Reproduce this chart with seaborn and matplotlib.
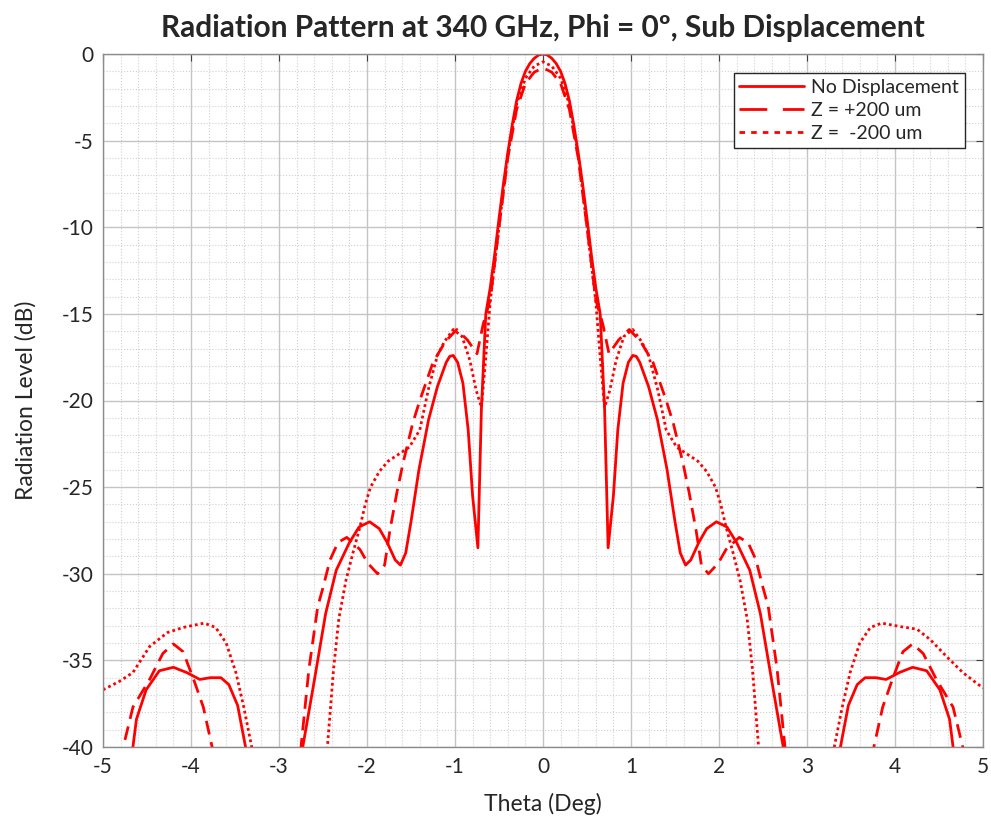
import numpy as np
import pandas as pd
import seaborn as sns
import matplotlib.pyplot as plt
from matplotlib.ticker import MultipleLocator
from matplotlib.lines import Line2D

# values (theta in deg, level in dB);
# points below -40 only carry the lines out of the axes
theta_nodisp = [-5.0, -4.72, -4.66, -4.62, -4.51, -4.36, -4.2, -4.05, -3.9, -3.78,
                -3.66, -3.57, -3.47, -3.38, -3.3, -2.8, -2.73, -2.6, -2.47, -2.35,
                -2.2, -2.09, -1.97, -1.86, -1.77, -1.68, -1.62, -1.56, -1.5, -1.41,
                -1.3, -1.2, -1.1, -1.06, -1.02, -0.97, -0.91, -0.85, -0.8, -0.74, -0.7,
                -0.65, -0.6, -0.55, -0.5, -0.45, -0.4, -0.35, -0.3, -0.25, -0.2, -0.15,
                -0.1, -0.05, 0.0,
                0.05, 0.1, 0.15, 0.2, 0.25, 0.3, 0.35, 0.4, 0.45, 0.5, 0.55, 0.6,
                0.65, 0.7, 0.74,
                0.8, 0.85, 0.91, 0.97, 1.02, 1.06, 1.1, 1.2, 1.3, 1.41, 1.5,
                1.56, 1.62, 1.68, 1.77, 1.86, 1.97, 2.09, 2.2, 2.35, 2.47,
                2.6, 2.73, 2.8, 3.3, 3.38, 3.47, 3.57, 3.66, 3.78, 3.9,
                4.05, 4.2, 4.36, 4.51, 4.62, 4.66, 4.72, 5.0]
level_nodisp = [-50, -43, -40, -38.4, -36.7, -35.6, -35.4, -35.7, -36.1, -36.0,
                -36.0, -36.4, -37.6, -40, -44, -44, -40, -36.2, -32.3, -29.8,
                -28.2, -27.3, -27.0, -27.4, -28.2, -29.2, -29.5, -28.8, -27.0, -24.0,
                -21.1, -19.2, -17.8, -17.45, -17.4, -17.8, -19.0, -21.7, -25.5, -28.5, -20.5,
                -15.0, -13.5, -11.6, -9.5, -7.5, -5.7, -4.1, -2.7, -1.7, -1.0, -0.55,
                -0.25, -0.06, 0.0,
                -0.06, -0.25, -0.55, -1.0, -1.7, -2.7, -4.1, -5.7, -7.5, -9.5, -11.6, -13.5,
                -15.0, -20.5, -28.5,
                -25.5, -21.7, -19.0, -17.8, -17.4, -17.45, -17.8, -19.2, -21.1, -24.0, -27.0,
                -28.8, -29.5, -29.2, -28.2, -27.4, -27.0, -27.3, -28.2, -29.8, -32.3,
                -36.2, -40, -44, -44, -40, -37.6, -36.4, -36.0, -36.0, -36.1,
                -35.7, -35.4, -35.6, -36.7, -38.4, -40, -43, -50]

theta_zplus = [-5.0, -4.85, -4.77, -4.66, -4.47, -4.32, -4.2, -4.09, -3.97, -3.86,
               -3.76, -3.7, -2.82, -2.75, -2.66, -2.56, -2.5, -2.42, -2.33, -2.23,
               -2.08, -1.99, -1.88, -1.8, -1.74, -1.66, -1.59, -1.48, -1.4, -1.25,
               -1.11, -0.98, -0.86, -0.75, -0.68, -0.6, -0.5, -0.4, -0.3, -0.2,
               -0.1, 0.0,
               0.1, 0.2, 0.3, 0.4, 0.5, 0.6, 0.68, 0.75, 0.86, 0.98,
               1.11, 1.25, 1.4, 1.48, 1.59, 1.66, 1.74, 1.8, 1.88, 1.99,
               2.08, 2.23, 2.33, 2.42, 2.5, 2.56, 2.66, 2.75, 2.82, 3.7,
               3.76, 3.86, 3.97, 4.09, 4.2, 4.32, 4.47, 4.66, 4.77, 4.85, 5.0]
level_zplus = [-55, -44, -40, -37.7, -36.1, -34.6, -34.05, -34.5, -36.1, -37.7,
               -40, -44, -44, -40, -35.5, -31.9, -30.8, -29.2, -28.2, -27.9,
               -28.6, -29.4, -30.0, -29.5, -27.5, -25.3, -23.6, -21.3, -20.0, -17.8,
               -16.6, -15.9, -16.5, -17.3, -15.6, -14.2, -10.0, -6.0, -3.2, -1.7,
               -1.05, -0.8,
               -1.05, -1.7, -3.2, -6.0, -10.0, -14.2, -15.6, -17.3, -16.5, -15.9,
               -16.6, -17.8, -20.0, -21.3, -23.6, -25.3, -27.5, -29.5, -30.0, -29.4,
               -28.6, -27.9, -28.2, -29.2, -30.8, -31.9, -35.5, -40, -44, -44,
               -40, -37.7, -36.1, -34.5, -34.05, -34.6, -36.1, -37.7, -40, -44, -55]

theta_zminus = [-5.0, -4.81, -4.66, -4.47, -4.27, -4.09, -3.85, -3.72, -3.6, -3.49,
                -3.4, -3.31, -3.25, -2.5, -2.45, -2.38, -2.32, -2.24, -2.16, -2.08,
                -2.02, -1.96, -1.86, -1.76, -1.64, -1.52, -1.4, -1.3, -1.2, -1.12,
                -1.02, -0.92, -0.83, -0.76, -0.7, -0.65, -0.6, -0.5, -0.4, -0.3,
                -0.2, -0.1, 0.0,
                0.1, 0.2, 0.3, 0.4, 0.5, 0.6, 0.65, 0.7, 0.76, 0.83,
                0.92, 1.02, 1.12, 1.2, 1.3, 1.4, 1.52, 1.64, 1.76, 1.86,
                1.96, 2.02, 2.08, 2.16, 2.24, 2.32, 2.38, 2.45, 2.5, 3.25,
                3.31, 3.4, 3.49, 3.6, 3.72, 3.85, 4.06, 4.25, 4.4, 4.59, 4.77, 5.0]
level_zminus = [-36.7, -36.2, -35.7, -34.2, -33.4, -33.1, -32.85, -33.1, -34.0, -35.7,
                -37.7, -40, -44, -44, -40, -35.5, -32.6, -30.4, -28.8, -27.3,
                -26.0, -25.0, -24.1, -23.5, -23.1, -22.7, -21.7, -19.3, -17.4, -16.6,
                -15.9, -16.3, -17.7, -19.4, -20.4, -17.5, -14.3, -10.0, -5.8, -2.9,
                -1.4, -0.7, -0.45,
                -0.7, -1.4, -2.9, -5.8, -10.0, -14.3, -17.5, -20.4, -19.4, -17.7,
                -16.3, -15.9, -16.6, -17.4, -19.3, -21.7, -22.7, -23.1, -23.5, -24.1,
                -25.0, -26.0, -27.3, -28.8, -30.4, -32.6, -35.5, -40, -44, -44,
                -40, -37.7, -35.7, -34.0, -33.1, -32.85, -33.05, -33.2, -33.8, -34.8, -35.7, -36.6]

labels = ['No Displacement', 'Z = +200 um', 'Z =  -200 um']

df = pd.concat([
    pd.DataFrame({'theta': theta_nodisp, 'level': level_nodisp, 'case': labels[0]}),
    pd.DataFrame({'theta': theta_zplus, 'level': level_zplus, 'case': labels[1]}),
    pd.DataFrame({'theta': theta_zminus, 'level': level_zminus, 'case': labels[2]}),
], ignore_index=True)

sns.set_style('white')
plt.rcParams['font.family'] = ['Lato', 'DejaVu Sans']
plt.rcParams['axes.unicode_minus'] = False

fig = plt.figure(figsize=(9.91, 8.25), dpi=100)
ax = fig.add_axes([103 / 991, 1 - 747 / 825, 880 / 991, 693 / 825])

dash_map = {labels[0]: '', labels[1]: (5.0, 2.8), labels[2]: (1.0, 1.1)}
sns.lineplot(data=df, x='theta', y='level', hue='case', style='case',
             palette=['red', 'red', 'red'], dashes=dash_map,
             estimator=None, sort=False, linewidth=2.0, legend=False, ax=ax)

ax.set_xlim(-5, 5)
ax.set_ylim(-40, 0)
ax.xaxis.set_major_locator(MultipleLocator(1))
ax.xaxis.set_minor_locator(MultipleLocator(0.2))
ax.yaxis.set_major_locator(MultipleLocator(5))
ax.yaxis.set_minor_locator(MultipleLocator(1))
ax.grid(which='major', color='#c4c4c4', linewidth=1.0, linestyle='-')
ax.grid(which='minor', color='#d0d0d0', linewidth=0.8, linestyle=':')
ax.set_axisbelow(True)
ax.tick_params(which='major', direction='in', length=5, width=0.8, color='#404040',
               top=True, right=True, labelsize=15, labelcolor='#262626', pad=7)
ax.tick_params(which='minor', length=0)
for s in ax.spines.values():
    s.set_color('#8c8c8c')
    s.set_linewidth(1.0)

ax.set_xlabel('Theta (Deg)', fontsize=16.5, color='#262626', labelpad=12)
ax.set_ylabel('Radiation Level (dB)', fontsize=16.5, color='#262626', labelpad=18)
ax.set_title('Radiation Pattern at 340 GHz, Phi = 0º, Sub Displacement',
             fontsize=21.5, fontweight='bold', pad=12)

# legend built from the drawn lines
lines = ax.get_lines()[:3]
handles = []
for l in lines:
    h = Line2D([], [], color=l.get_color(), linewidth=2.0)
    if l._dash_pattern[1]:
        h.set_dashes(l._dash_pattern[1])
    handles.append(h)
leg = ax.legend(handles, labels, loc='upper right', bbox_to_anchor=(0.9795, 0.9726),
                borderaxespad=0, fancybox=False, framealpha=1, fontsize=14,
                handlelength=3.3, handletextpad=0.4, labelspacing=0.32,
                borderpad=0.3, edgecolor='#262626')
leg.get_frame().set_linewidth(1.0)

plt.savefig('out.png', dpi=100)
